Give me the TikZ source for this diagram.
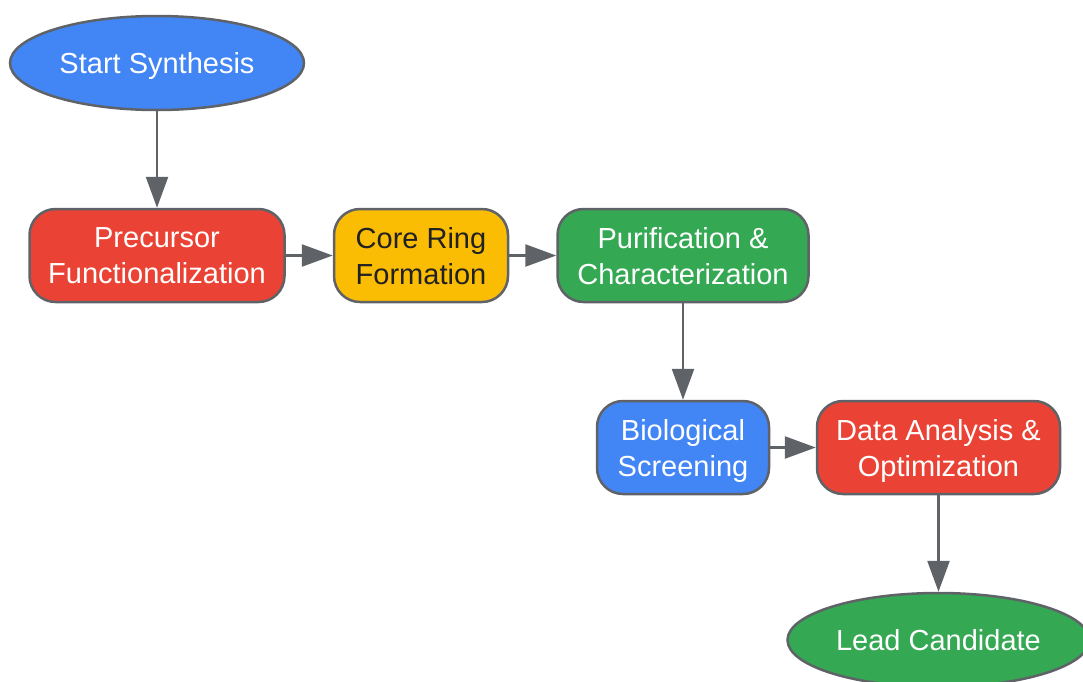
\documentclass[tikz,border=0pt]{standalone}
\usepackage{fontspec}
\setmainfont{Liberation Sans}
\usetikzlibrary{shapes.geometric,arrows.meta}
\definecolor{gblue}{HTML}{4285F4}
\definecolor{gred}{HTML}{EA4335}
\definecolor{gyellow}{HTML}{FBBC04}
\definecolor{ggreen}{HTML}{34A853}
\definecolor{gborder}{HTML}{5F6368}
\definecolor{gtext}{HTML}{202124}
\tikzset{
  base/.style={draw=gborder, line width=2.5pt, inner sep=0pt, align=center,
    font=\fontsize{29}{36}\selectfont, text=white, text depth=0pt},
  box/.style={base, rectangle, rounded corners=26pt, minimum height=93pt},
  oval/.style={base, ellipse, minimum width=294pt, minimum height=94pt},
  conn/.style={draw=gborder, line width=2.5pt, -{Triangle[length=31pt,width=22pt]}}
}
\begin{document}
\begin{tikzpicture}[x=1pt,y=-1pt]
\useasboundingbox (0,0) rectangle (1083,681);
\clip (0,0) rectangle (1083,681);
\node[oval, fill=gblue] (start) at (157,63) {Start Synthesis};
\node[box, fill=gred, minimum width=255pt] (prec) at (157,255.5) {Precursor\\Functionalization};
\node[box, fill=gyellow, minimum width=174pt, text=gtext] (core) at (421,255.5) {Core Ring\\Formation};
\node[box, fill=ggreen, minimum width=251pt] (puri) at (683,255.5) {Purification \&\\Characterization};
\node[box, fill=gblue, minimum width=172pt] (bio) at (683,447.5) {Biological\\Screening};
\node[box, fill=gred, minimum width=243pt] (data) at (938.5,447.5) {Data Analysis \&\\Optimization};
\node[oval, fill=ggreen, minimum width=302pt] (lead) at (938.5,640) {Lead Candidate};
\draw[conn] (start) -- (prec);
\draw[conn] (prec) -- (core);
\draw[conn] (core) -- (puri);
\draw[conn] (puri) -- (bio);
\draw[conn] (bio) -- (data);
\draw[conn] (data) -- (lead);
\end{tikzpicture}
\end{document}
